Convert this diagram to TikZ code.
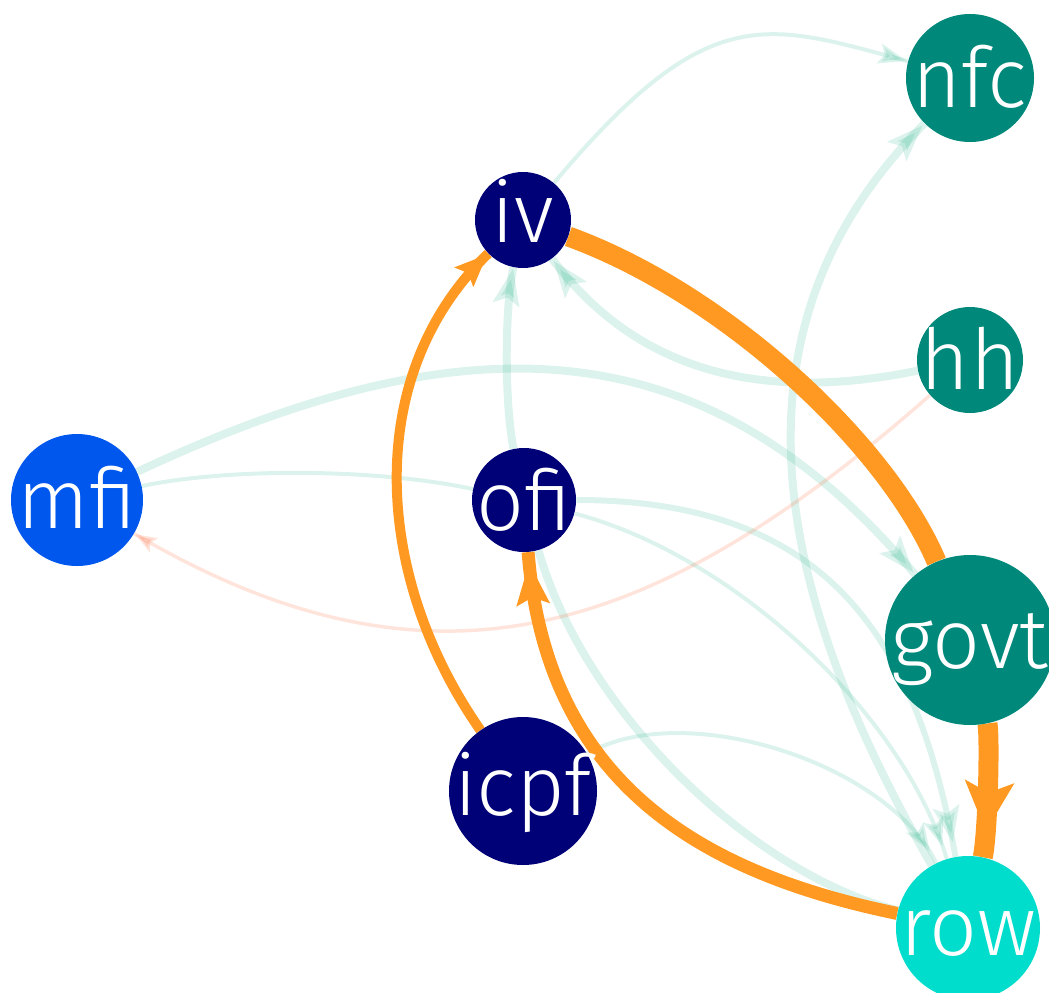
\documentclass[tikz,border=0pt]{standalone}
\usepackage{fontspec}
\newfontfamily\nodefont{Fira Sans}[UprightFont={* Light}]
\usetikzlibrary{arrows.meta,decorations.markings,backgrounds}

\definecolor{navy}{HTML}{000077}
\definecolor{tealnode}{HTML}{00897B}
\definecolor{bluenode}{HTML}{0057EE}
\definecolor{cyannode}{HTML}{00DDCC}
\definecolor{flowhi}{HTML}{FF9922}
\definecolor{flowlo}{HTML}{2DB48C}
\definecolor{flowneg}{HTML}{FF5A28}

% label whose baseline sits #1 below the node centre, taking no room
\newcommand\nlabel[2]{\makebox[0pt]{\raisebox{-#1}[0pt][0pt]{#2}}}

\begin{document}
\begin{tikzpicture}[x=0.75pt, y=-0.75pt,
  sector/.style={circle, inner sep=0pt, text=white,
    font={\nodefont\fontsize{63pt}{63pt}\selectfont}},
  tipat/.style 2 args={postaction={decorate},
    decoration={markings, mark=at position -#1 with {\arrow{#2}}}},
  lowthick/.style={draw=flowlo, opacity=0.17, line width=6pt},
  lowmid/.style={draw=flowlo, opacity=0.17, line width=4.5pt},
  lowthin/.style={draw=flowlo, opacity=0.17, line width=3pt},
  negthin/.style={draw=flowneg, opacity=0.16, line width=2.6pt},
  hiflow/.style={draw=flowhi},
  tipbig/.tip={Stealth[length=27pt, width=19.5pt, inset=5pt]},
  tipsmall/.tip={Stealth[length=21pt, width=15pt, inset=4pt]},
  tipneg/.tip={Stealth[length=16pt, width=12pt, inset=3pt]},
]
\path[use as bounding box] (0,0) rectangle (1049,992);

% sectors
\node[sector, fill=tealnode, minimum size=96pt]  (nfc)  at (970,78)  {\nlabel{21.75pt}{nfc}};
\node[sector, fill=navy,     minimum size=72pt]  (iv)   at (523,220) {\nlabel{16.5pt}{iv}};
\node[sector, fill=tealnode, minimum size=79.5pt](hh)   at (970,360) {\nlabel{21.75pt}{hh}};
\node[sector, fill=bluenode, minimum size=99pt]  (mfi)  at (77,500)  {\nlabel{21pt}{mfi}};
\node[sector, fill=navy,     minimum size=78pt]  (ofi)  at (524,500) {\nlabel{22.5pt}{ofi}};
\node[sector, fill=tealnode, minimum size=127.5pt](govt) at (970,640) {\nlabel{21pt}{govt}};
\node[sector, fill=navy,     minimum size=111pt] (icpf) at (523,791) {\nlabel{18pt}{icpf}};
\node[sector, fill=cyannode, minimum size=108pt] (row)  at (968,928) {\nlabel{20.25pt}{row}};

\begin{pgfonlayer}{background}
% small flows
\draw[lowthin, tipat={1pt}{tipsmall}]  (iv)   .. controls (709,-2)  and (766,23)  .. (nfc);
\draw[lowthick, tipat={2pt}{tipbig}]   (hh)   .. controls (774,400) and (643,380) .. (iv);
\draw[lowthick, tipat={2pt}{tipbig}]   (mfi)  .. controls (457,322) and (700,318) .. (govt);
\draw[lowthin]                         (mfi)  .. controls (226,468) and (375,468) .. (ofi);
\draw[lowthick, tipat={1pt}{tipbig}]   (ofi)  .. controls (505,407) and (504,313) .. (iv);
\draw[lowthick, tipat={2pt}{tipbig}]   (row)  .. controls (778,599) and (715,333) .. (nfc);
\draw[lowmid, tipat={11pt}{tipbig}]    (ofi)  .. controls (824,500) and (916,633) .. (row);
\draw[lowthin, tipat={10pt}{tipsmall}] (ofi)  .. controls (738,557) and (903,716) .. (row);
\draw[lowthick]                        (ofi)  .. controls (585,713) and (753,874) .. (row);
\draw[lowthin, tipat={10pt}{tipsmall}] (icpf) .. controls (683,698) and (887,762) .. (row);
\draw[negthin, tipat={1pt}{tipneg}]    (hh)   .. controls (655,637) and (434,710) .. (mfi);
% large flows
\draw[hiflow, line width=15pt] (iv) .. controls (724,293) and (886,443) .. (govt);
\draw[hiflow, line width=15pt,
  tipat={19.5pt}{Stealth[length=37pt, width=36pt, inset=8pt]}]
  (govt) .. controls (990,736) and (988,832) .. (row);
\draw[hiflow, line width=7.5pt,
  tipat={1pt}{Stealth[length=24pt, width=19.5pt, inset=4pt]}]
  (icpf) .. controls (374,578) and (361,376) .. (iv);
\draw[hiflow, line width=9.75pt,
  tipat={8pt}{Stealth[length=31pt, width=24pt, inset=5pt]}]
  (row) .. controls (696,872) and (546,780) .. (ofi);
\end{pgfonlayer}
\end{tikzpicture}
\end{document}
